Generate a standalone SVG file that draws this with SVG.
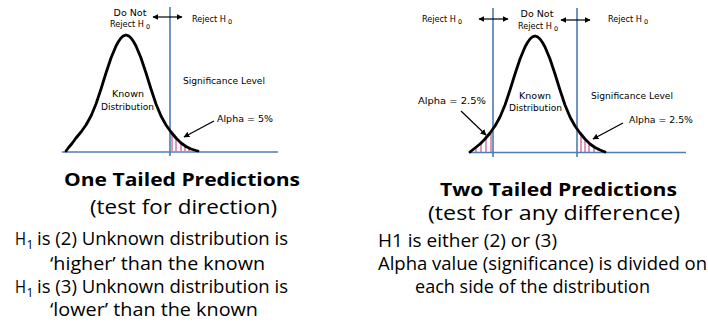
<svg xmlns="http://www.w3.org/2000/svg" width="708" height="326" viewBox="0 0 708 326">
<defs>
<marker id="ah" viewBox="0 0 10 10" refX="9" refY="5" markerWidth="6" markerHeight="6" orient="auto-start-reverse" markerUnits="userSpaceOnUse">
<path d="M0,0 L10,5 L0,10 z" fill="#000"/>
</marker>
<style>
.ax{stroke:#4f7cb5;stroke-width:1.6;fill:none}
.curve{stroke:#000;stroke-width:2.8;fill:none;stroke-linejoin:round;stroke-linecap:round}
.hatch{stroke:#c0307f;stroke-width:1}
.arr{stroke:#000;stroke-width:1.2;fill:none}
.lbl{font-family:"DejaVu Sans",sans-serif;font-size:9.5px;fill:#000}
.sub{font-family:"DejaVu Sans",sans-serif;font-size:6.5px;fill:#000}
.big{font-family:"Open Sans","Noto Sans",sans-serif;font-size:18px;fill:#000}
.mid{font-family:"Open Sans","Noto Sans",sans-serif;font-size:20px;fill:#000}
.s1{font-family:"Open Sans","Noto Sans",sans-serif;font-size:12px;fill:#000}
.bold{font-weight:bold}
</style>
</defs>
<rect width="708" height="326" fill="#fff"/>

<g id="left-chart">
<line class="ax" x1="62" y1="152" x2="278" y2="152"/>
<line class="ax" x1="170" y1="7" x2="170" y2="156"/>
<g id="left-hatch">
<line class="hatch" x1="172" y1="151" x2="172" y2="133"/>
<line class="hatch" x1="176" y1="151" x2="176" y2="138"/>
<line class="hatch" x1="181" y1="151" x2="181" y2="143"/>
<line class="hatch" x1="185" y1="151" x2="185" y2="146"/>
<line class="hatch" x1="189" y1="151" x2="189" y2="148.5"/>
</g>
<polyline class="curve" points="66,151 69,147 72,143.5 76,138 81,132 86,125 91,116 96,104 101,89 106,73 111,58 116,46 118.5,41.5 121,38 123.5,35.8 126,35 128.5,35.8 131,38 133.5,41.5 136,46 141,58 146,73 151,89 156,104 161,116 166,125 171,132 176,138 181,143 186,146.5 191,149 196,150.5 198,151"/>
</g>

<g id="right-chart">
<line class="ax" x1="469" y1="152.5" x2="686" y2="152.5"/>
<line class="ax" x1="493" y1="8" x2="493" y2="157"/>
<line class="ax" x1="577" y1="8" x2="577" y2="157"/>
<g id="right-hatch">
<line class="hatch" x1="476" y1="152" x2="476" y2="147"/>
<line class="hatch" x1="481" y1="152" x2="481" y2="143"/>
<line class="hatch" x1="486" y1="152" x2="486" y2="138"/>
<line class="hatch" x1="491" y1="152" x2="491" y2="132"/>
<line class="hatch" x1="581" y1="152" x2="581" y2="134"/>
<line class="hatch" x1="585" y1="152" x2="585" y2="139"/>
<line class="hatch" x1="589" y1="152" x2="589" y2="143"/>
<line class="hatch" x1="594" y1="152" x2="594" y2="147"/>
</g>
<polyline class="curve" transform="translate(409,1)" points="61,151 66,147 71,143 76,138 81,132 86,125 91,116 96,104 101,89 106,73 111,58 116,46 118.5,41.5 121,38 123.5,35.8 126,35 128.5,35.8 131,38 133.5,41.5 136,46 141,58 146,73 151,89 156,104 161,116 166,125 171,132 176,138 181,143 186,146.5 191,149 196,151"/>
</g>

<g id="connectors">
<line class="arr" x1="153" y1="17" x2="182" y2="17" marker-start="url(#ah)" marker-end="url(#ah)"/>
<line class="arr" x1="479" y1="19" x2="508" y2="19" marker-start="url(#ah)" marker-end="url(#ah)"/>
<line class="arr" x1="561" y1="20" x2="590" y2="20" marker-start="url(#ah)" marker-end="url(#ah)"/>
<line class="arr" x1="214" y1="121" x2="184" y2="137" marker-end="url(#ah)"/>
<line class="arr" x1="461" y1="111" x2="486" y2="135" marker-end="url(#ah)"/>
<line class="arr" x1="623" y1="123" x2="593" y2="139" marker-end="url(#ah)"/>
</g>

<g id="left-labels">
<text class="lbl" x="130" y="16" text-anchor="middle">Do Not</text>
<text class="lbl" x="110" y="27" textLength="34" lengthAdjust="spacingAndGlyphs">Reject H</text>
<text class="sub" x="146" y="29">0</text>
<text class="lbl" x="192" y="22" textLength="34" lengthAdjust="spacingAndGlyphs">Reject H</text>
<text class="sub" x="228" y="24">0</text>
<text class="lbl" x="183" y="84" textLength="82" lengthAdjust="spacingAndGlyphs">Significance Level</text>
<text class="lbl" x="128" y="97" text-anchor="middle">Known</text>
<text class="lbl" x="101" y="110" textLength="53" lengthAdjust="spacingAndGlyphs">Distribution</text>
<text class="lbl" x="217" y="122" textLength="56" lengthAdjust="spacingAndGlyphs">Alpha = 5%</text>
</g>

<g id="right-labels">
<text class="lbl" x="422" y="22" textLength="34" lengthAdjust="spacingAndGlyphs">Reject H</text>
<text class="sub" x="458" y="24">0</text>
<text class="lbl" x="537" y="17" text-anchor="middle">Do Not</text>
<text class="lbl" x="518" y="29" textLength="34" lengthAdjust="spacingAndGlyphs">Reject H</text>
<text class="sub" x="554" y="31">0</text>
<text class="lbl" x="608" y="22" textLength="34" lengthAdjust="spacingAndGlyphs">Reject H</text>
<text class="sub" x="644" y="24">0</text>
<text class="lbl" x="418" y="104" textLength="68" lengthAdjust="spacingAndGlyphs">Alpha = 2.5%</text>
<text class="lbl" x="535" y="99" text-anchor="middle">Known</text>
<text class="lbl" x="509" y="111" textLength="53" lengthAdjust="spacingAndGlyphs">Distribution</text>
<text class="lbl" x="591" y="99" textLength="82" lengthAdjust="spacingAndGlyphs">Significance Level</text>
<text class="lbl" x="629" y="123" textLength="64" lengthAdjust="spacingAndGlyphs">Alpha = 2.5%</text>
</g>

<g id="left-text">
<text class="big bold" x="64" y="186" textLength="236" lengthAdjust="spacingAndGlyphs">One Tailed Predictions</text>
<text class="mid" x="90" y="214" textLength="187" lengthAdjust="spacingAndGlyphs">(test for direction)</text>
<text class="big" x="15" y="245" textLength="11" lengthAdjust="spacingAndGlyphs">H</text>
<text class="s1" x="26.5" y="249">1</text>
<text class="big" x="37" y="245" textLength="251" lengthAdjust="spacingAndGlyphs">is (2) Unknown distribution is</text>
<text class="big" x="50" y="270" textLength="215" lengthAdjust="spacingAndGlyphs">‘higher’ than the known</text>
<text class="big" x="15" y="293" textLength="11" lengthAdjust="spacingAndGlyphs">H</text>
<text class="s1" x="26.5" y="297">1</text>
<text class="big" x="37" y="293" textLength="251" lengthAdjust="spacingAndGlyphs">is (3) Unknown distribution is</text>
<text class="big" x="50" y="316" textLength="208" lengthAdjust="spacingAndGlyphs">‘lower’ than the known</text>
</g>

<g id="right-text">
<text class="big bold" x="440" y="196" textLength="237" lengthAdjust="spacingAndGlyphs">Two Tailed Predictions</text>
<text class="mid" x="428" y="220" textLength="252" lengthAdjust="spacingAndGlyphs">(test for any difference)</text>
<text class="big" x="378" y="247" textLength="179" lengthAdjust="spacingAndGlyphs">H1 is either (2) or (3)</text>
<text class="big" x="378" y="270" textLength="329" lengthAdjust="spacingAndGlyphs">Alpha value (significance) is divided on</text>
<text class="big" x="415" y="293" textLength="235" lengthAdjust="spacingAndGlyphs">each side of the distribution</text>
</g>
</svg>
